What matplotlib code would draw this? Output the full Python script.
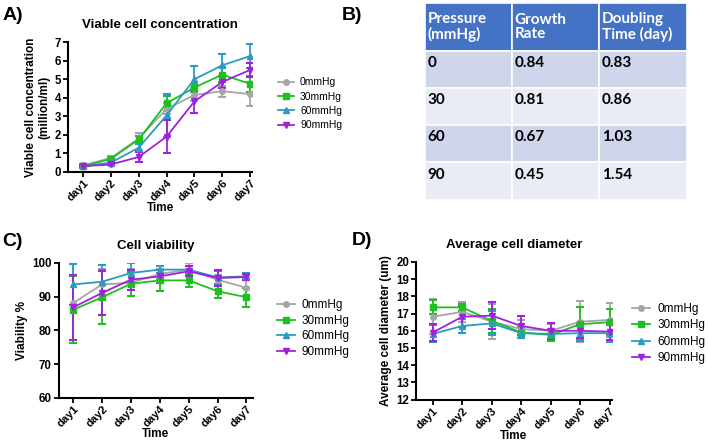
import numpy as np
import matplotlib
matplotlib.use("Agg")
import matplotlib.pyplot as plt
from matplotlib.patches import Rectangle

plt.rcParams['font.family'] = ['Liberation Sans', 'DejaVu Sans']

# data
days = ["day1", "day2", "day3", "day4", "day5", "day6", "day7"]
groups = ["0mmHg", "30mmHg", "60mmHg", "90mmHg"]
colors = ["#a6a6a6", "#1fbf1f", "#2a9cc0", "#a020e0"]
markers = ["o", "s", "^", "v"]

# A) viable cell concentration (million/ml)
conc_mean = [
    [0.35, 0.75, 1.80, 3.40, 4.15, 4.35, 4.20],
    [0.30, 0.70, 1.75, 3.70, 4.55, 5.25, 4.75],
    [0.30, 0.50, 1.30, 3.05, 5.00, 5.75, 6.25],
    [0.30, 0.40, 0.80, 1.90, 3.80, 4.85, 5.50],
]
conc_err = [
    [0.05, 0.10, 0.30, 0.30, 0.35, 0.30, 0.65],
    [0.10, 0.10, 0.20, 0.40, 0.20, 0.40, 0.45],
    [0.05, 0.10, 0.20, 1.15, 0.70, 0.60, 0.65],
    [0.05, 0.05, 0.25, 0.90, 0.60, 0.35, 0.40],
]

# C) viability %
via_mean = [
    [88.1, 93.6, 94.1, 96.7, 98.0, 95.0, 92.6],
    [86.1, 89.8, 93.8, 94.8, 94.8, 91.6, 89.8],
    [93.6, 94.4, 97.0, 98.0, 98.0, 95.7, 96.0],
    [86.8, 91.1, 95.0, 96.0, 97.5, 95.5, 95.8],
]
via_err = [
    [12.0, 4.5, 4.0, 1.5, 2.0, 1.5, 2.5],
    [10.0, 8.0, 3.5, 3.2, 2.0, 2.0, 2.8],
    [6.0, 5.0, 3.0, 1.0, 1.0, 2.0, 1.0],
    [9.6, 6.5, 3.0, 2.0, 1.5, 2.5, 1.0],
]

# D) average cell diameter (um)
dia_mean = [
    [16.82, 17.10, 16.53, 16.10, 16.00, 16.53, 16.63],
    [17.36, 17.36, 16.57, 15.90, 15.76, 16.38, 16.50],
    [15.82, 16.28, 16.43, 15.86, 15.82, 15.86, 15.86],
    [15.90, 16.82, 16.88, 16.28, 16.00, 16.00, 15.95],
]
dia_err = [
    [1.00, 0.60, 1.00, 0.50, 0.40, 1.20, 1.00],
    [0.40, 0.20, 0.70, 0.30, 0.35, 1.00, 0.75],
    [0.50, 0.40, 0.70, 0.30, 0.30, 0.40, 0.50],
    [0.50, 0.60, 0.80, 0.55, 0.45, 0.40, 0.50],
]

# B) table
table_header = ["Pressure\n(mmHg)", "Growth\nRate", "Doubling\nTime (day)"]
pressure = ["0", "30", "60", "90"]
growth_rate = ["0.84", "0.81", "0.67", "0.45"]
doubling_time = ["0.83", "0.86", "1.03", "1.54"]


def line_panel(ax, means, errs, title, ylabel, ylim, yticks, xlim, legend_size, legend_xy, legend_sp):
    x = np.arange(1, len(days) + 1)
    handles = []
    for i in range(len(groups)):
        eb = ax.errorbar(x, means[i], yerr=errs[i], color=colors[i], marker=markers[i],
                         markersize=4, lw=1.3, elinewidth=1.3, capsize=2.8, capthick=1.5,
                         label=groups[i])
        handles.append(eb[0])
    ax.set_xlim(*xlim)
    ax.set_ylim(*ylim)
    ax.set_yticks(yticks)
    ax.set_xticks(x)
    ax.set_xticklabels(days, rotation=45, ha="right", rotation_mode="anchor")
    for s in ["top", "right"]:
        ax.spines[s].set_visible(False)
    for s in ["left", "bottom"]:
        ax.spines[s].set_linewidth(1.5)
    ax.tick_params(width=1.3, length=3.5, labelsize=8.3, pad=1.5)
    ax.tick_params(axis="x", labelsize=8, pad=1)
    for lab in ax.get_xticklabels() + ax.get_yticklabels():
        lab.set_fontweight("bold")
    ax.set_title(title, fontsize=9.5, fontweight="bold", pad=10)
    ax.set_xlabel("Time", fontsize=8.5, fontweight="bold", labelpad=-1)
    ax.set_ylabel(ylabel, fontsize=8.5, fontweight="bold", labelpad=3)
    ax.legend(handles, groups, loc="upper left", bbox_to_anchor=legend_xy,
              bbox_transform=fig.transFigure, frameon=False, borderpad=0,
              fontsize=legend_size, handlelength=1.5, handletextpad=0.6,
              labelspacing=legend_sp, borderaxespad=0)


fig = plt.figure(figsize=(7.08, 4.44), dpi=100)

# A
axA = fig.add_axes([0.096, 0.613, 0.26, 0.292])
line_panel(axA, conc_mean, conc_err, "Viable cell concentration",
           "Viable cell concentration\n(million/ml)", (0, 7), range(0, 8),
           (0.46, 7.07), 7.5, (0.393, 0.826), 0.42)

# C
axC = fig.add_axes([0.083, 0.104, 0.274, 0.304])
line_panel(axC, via_mean, via_err, "Cell viability", "Viability %",
           (60, 100), range(60, 101, 10), (0.5, 7.22), 8.5, (0.391, 0.326), 0.3)

# D
axD = fig.add_axes([0.5876, 0.1, 0.2764, 0.31])
line_panel(axD, dia_mean, dia_err, "Average cell diameter", "Average cell diameter (um)",
           (12, 20), range(12, 21), (0.43, 7.07), 8.5, (0.893, 0.318), 0.38)

# B table
axB = fig.add_axes([0.600, 0.550, 0.370, 0.443])
axB.set_xlim(0, 3)
row_h = [1.27, 1, 1, 1, 1]
total = sum(row_h)
axB.set_ylim(0, total)
axB.axis("off")
columns = [pressure, growth_rate, doubling_time]
top = total
for r in range(5):
    h = row_h[r]
    bottom = top - h
    for c in range(3):
        if r == 0:
            fc = "#4472c4"
        elif r % 2 == 1:
            fc = "#cfd5ea"
        else:
            fc = "#e9ebf5"
        axB.add_patch(Rectangle((c, bottom), 1, h, facecolor=fc, edgecolor="white", lw=1.2))
        if r == 0:
            axB.text(c + 0.03, top - h / 2, table_header[c], color="white",
                     fontsize=11, fontweight="bold", family="Lato",
                     va="center", ha="left", linespacing=1.05)
        else:
            axB.text(c + 0.03, top - 0.33, columns[c][r - 1], color="black",
                     fontsize=11, fontweight="bold", family="Lato",
                     va="center", ha="left")
    top = bottom

# panel letters
fig.text(0.003, 0.965, "A)", fontsize=14, fontweight="bold", va="center")
fig.text(0.482, 0.965, "B)", fontsize=14, fontweight="bold", va="center")
fig.text(0.003, 0.455, "C)", fontsize=14, fontweight="bold", va="center")
fig.text(0.497, 0.458, "D)", fontsize=14, fontweight="bold", va="center")

fig.savefig("out.png", dpi=100)
